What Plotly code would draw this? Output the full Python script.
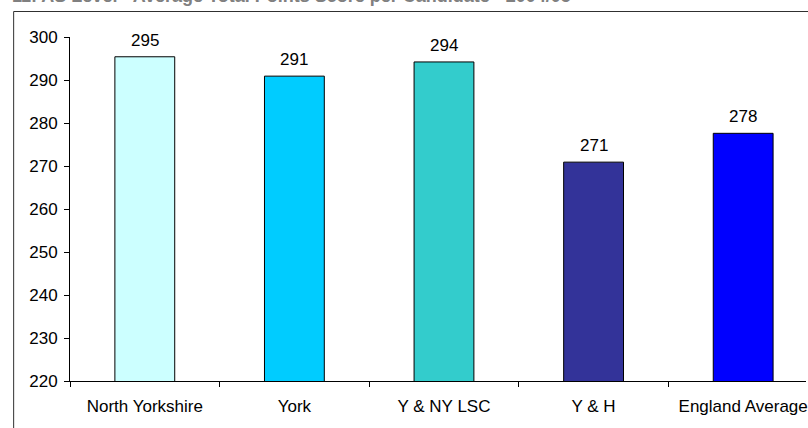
import plotly.graph_objects as go

# Average total points score per candidate, by area
areas = ["North Yorkshire", "York", "Y & NY LSC", "Y & H", "England Average"]
scores = [295.4, 290.9, 294.2, 270.9, 277.6]
bar_colors = ["#CCFFFF", "#00CCFF", "#33CCCC", "#333399", "#0000FF"]

y_min, y_max, y_step = 220, 300, 10
title_text = "11: AS Level - Average Total Points Score per Candidate - 2004/05"

W, H = 808, 428
L, R, T, B = 70, 0, 37, 47
plot_w = W - L - R
plot_h = H - T - B
cat_px = 150  # pixel width of one category slot
x_hi = -0.5 + plot_w / cat_px

font = dict(family="Liberation Sans, Arial, sans-serif", size=17, color="#000000")

fig = go.Figure(
    go.Bar(
        x=areas,
        y=scores,
        width=0.4,
        marker=dict(color=bar_colors, line=dict(color="#000000", width=1)),
    )
)

# value labels above each bar
for a, v in zip(areas, scores):
    fig.add_annotation(
        x=a, y=v, text=f"{v:.0f}", showarrow=False,
        yanchor="bottom", yshift=5, font=font,
    )

# chart title (runs off the top of the page)
fig.add_annotation(
    xref="paper", yref="paper",
    x=(10 - L) / plot_w, y=1 + (T - 8) / plot_h,
    xanchor="left", yanchor="bottom",
    text=title_text, showarrow=False,
    font=dict(family="Liberation Sans, Arial, sans-serif", size=18,
              color="#808080", weight="bold"),
)

# chart area border
fig.add_shape(
    type="rect", xref="paper", yref="paper",
    x0=(13.5 - L) / plot_w, x1=1.2,
    y0=-0.3, y1=1 + (T - 11.5) / plot_h,
    line=dict(color="#303030", width=1),
    fillcolor="rgba(0,0,0,0)", layer="below",
)

fig.update_layout(
    width=W, height=H,
    margin=dict(l=L, r=R, t=T, b=B, pad=0),
    paper_bgcolor="white", plot_bgcolor="white",
    showlegend=False,
    font=font,
)
fig.update_xaxes(
    type="category", range=[-0.5, x_hi],
    showline=True, linecolor="#000000", linewidth=1,
    ticks="outside", tickson="boundaries", ticklen=5, tickcolor="#000000",
    showgrid=False, zeroline=False, tickfont=font,
    ticklabelstandoff=10,
)
fig.update_yaxes(
    range=[y_min, y_max], dtick=y_step, tick0=y_min,
    showline=True, linecolor="#000000", linewidth=1,
    ticks="outside", ticklen=5, tickcolor="#000000",
    showgrid=False, zeroline=False, tickfont=font,
    ticklabelstandoff=3,
)

fig.write_html("out.html")
